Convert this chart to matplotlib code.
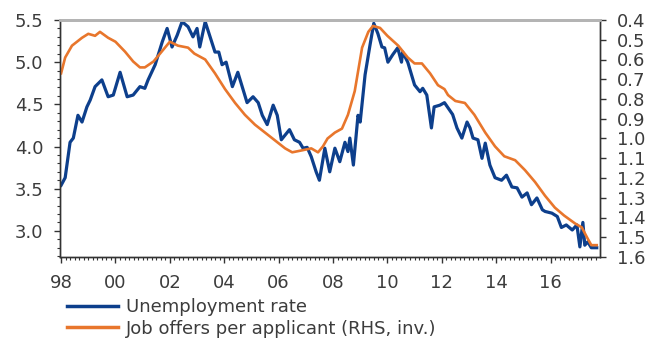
import matplotlib
matplotlib.use("Agg")
import matplotlib.pyplot as plt
from matplotlib.ticker import MultipleLocator, FuncFormatter
from matplotlib.lines import Line2D

# Unemployment rate (%), left axis
u_year = [1998.00, 1998.15, 1998.33, 1998.45, 1998.62, 1998.77, 1998.95, 1999.07,
          1999.25, 1999.50, 1999.73, 1999.92, 2000.17, 2000.43, 2000.65, 2000.90,
          2001.08, 2001.20, 2001.46, 2001.72, 2001.90, 2002.08, 2002.27, 2002.45,
          2002.67, 2002.85, 2003.00, 2003.10, 2003.30, 2003.42, 2003.66, 2003.80,
          2003.92, 2004.07, 2004.30, 2004.50, 2004.84, 2005.06, 2005.25, 2005.40,
          2005.58, 2005.80, 2005.95, 2006.10, 2006.40, 2006.58, 2006.77, 2006.90,
          2007.05, 2007.20, 2007.38, 2007.50, 2007.70, 2007.88, 2008.07, 2008.25,
          2008.44, 2008.55, 2008.62, 2008.75, 2008.92, 2009.00, 2009.18, 2009.36,
          2009.50, 2009.65, 2009.80, 2009.90, 2010.02, 2010.20, 2010.38, 2010.52,
          2010.56, 2010.75, 2011.00, 2011.20, 2011.30, 2011.45, 2011.62, 2011.72,
          2011.93, 2012.10, 2012.25, 2012.40, 2012.56, 2012.74, 2012.93, 2013.04,
          2013.15, 2013.33, 2013.48, 2013.60, 2013.77, 2013.96, 2014.20, 2014.38,
          2014.58, 2014.77, 2014.95, 2015.14, 2015.30, 2015.50, 2015.70, 2015.80,
          2016.05, 2016.25, 2016.40, 2016.58, 2016.80, 2016.97, 2017.08, 2017.19,
          2017.26, 2017.37, 2017.50, 2017.70]
u_rate = [3.54, 3.63, 4.05, 4.10, 4.37, 4.29, 4.47, 4.55,
          4.71, 4.79, 4.59, 4.61, 4.88, 4.59, 4.61, 4.71,
          4.69, 4.79, 4.97, 5.24, 5.40, 5.18, 5.32, 5.48,
          5.42, 5.30, 5.40, 5.18, 5.48, 5.36, 5.12, 5.12,
          4.97, 5.00, 4.71, 4.88, 4.52, 4.59, 4.52, 4.37,
          4.26, 4.49, 4.37, 4.08, 4.20, 4.08, 4.05, 3.98,
          3.99, 3.88, 3.70, 3.60, 3.98, 3.70, 3.98, 3.82,
          4.05, 3.94, 4.10, 3.78, 4.37, 4.29, 4.85, 5.20,
          5.46, 5.34, 5.18, 5.17, 5.00, 5.09, 5.17, 5.00,
          5.12, 5.00, 4.73, 4.65, 4.69, 4.61, 4.22, 4.47,
          4.49, 4.52, 4.45, 4.38, 4.22, 4.10, 4.29, 4.22,
          4.10, 4.08, 3.86, 4.04, 3.78, 3.63, 3.60, 3.66,
          3.52, 3.51, 3.40, 3.45, 3.31, 3.39, 3.25, 3.23,
          3.21, 3.17, 3.04, 3.07, 3.01, 3.07, 2.81, 3.10,
          2.83, 2.87, 2.80, 2.80]

# Job offers per applicant, right axis (inverted)
j_year = [1998.00, 1998.15, 1998.40, 1998.77, 1999.00, 1999.25, 1999.43, 1999.73,
          2000.00, 2000.35, 2000.65, 2000.90, 2001.08, 2001.40, 2001.70, 2002.00,
          2002.30, 2002.67, 2002.90, 2003.30, 2003.66, 2004.03, 2004.40, 2004.76,
          2005.13, 2005.50, 2005.87, 2006.24, 2006.50, 2006.86, 2007.20, 2007.45,
          2007.63, 2007.80, 2008.07, 2008.33, 2008.55, 2008.80, 2009.07, 2009.30,
          2009.47, 2009.73, 2010.00, 2010.40, 2010.75, 2011.00, 2011.27, 2011.57,
          2011.86, 2012.10, 2012.23, 2012.50, 2012.85, 2013.20, 2013.60, 2013.96,
          2014.30, 2014.70, 2015.06, 2015.43, 2015.80, 2016.16, 2016.50, 2016.90,
          2017.15, 2017.34, 2017.50, 2017.70]
j_ratio = [0.67, 0.59, 0.53, 0.49, 0.47, 0.48, 0.46, 0.49,
           0.51, 0.56, 0.61, 0.64, 0.64, 0.61, 0.56, 0.51,
           0.53, 0.54, 0.57, 0.60, 0.67, 0.75, 0.82, 0.88,
           0.93, 0.97, 1.01, 1.05, 1.07, 1.06, 1.05, 1.07,
           1.04, 1.00, 0.97, 0.95, 0.88, 0.76, 0.54, 0.46,
           0.43, 0.44, 0.48, 0.53, 0.59, 0.62, 0.62, 0.67,
           0.73, 0.75, 0.78, 0.81, 0.82, 0.88, 0.97, 1.04,
           1.09, 1.11, 1.16, 1.22, 1.29, 1.35, 1.39, 1.43,
           1.45, 1.50, 1.54, 1.54]

x_ticks = list(range(1998, 2017, 2))
legend_labels = ["Unemployment rate", "Job offers per applicant (RHS, inv.)"]

BLUE = "#0d3f8c"
ORANGE = "#e8762c"
TXT = "#3c3c3c"
FS = 13

plt.rcParams["font.family"] = ["DejaVu Sans"]

fig = plt.figure(figsize=(6.56, 3.5), dpi=100)
ax = fig.add_axes([60 / 656, 93 / 350, 540 / 656, 237 / 350])
ax2 = ax.twinx()

ax.plot(u_year, u_rate, color=BLUE, lw=2.3, solid_joinstyle="round")
ax2.plot(j_year, j_ratio, color=ORANGE, lw=1.9, solid_joinstyle="round")

ax.set_xlim(1997.96, 2017.82)
ax.set_ylim(2.69, 5.5)
ax2.set_ylim(1.6, 0.4)

ax.set_xticks(x_ticks)
ax.xaxis.set_major_formatter(FuncFormatter(lambda v, p: f"{int(round(v)) % 100:02d}"))
ax.xaxis.set_minor_locator(MultipleLocator(1 / 6))
ax.yaxis.set_major_locator(MultipleLocator(0.5))
ax.yaxis.set_major_formatter(FuncFormatter(lambda v, p: f"{v:.1f}"))
ax.yaxis.set_minor_locator(MultipleLocator(0.1))
ax2.yaxis.set_major_locator(MultipleLocator(0.1))
ax2.yaxis.set_major_formatter(FuncFormatter(lambda v, p: f"{v:.1f}"))

for a in (ax, ax2):
    a.tick_params(which="major", length=4, width=1, color="#333333",
                  labelsize=FS, labelcolor=TXT, direction="out")
    a.tick_params(which="minor", length=2, width=0.8, color="#333333", direction="out")
    a.spines["top"].set_color("#b4b4b4")
    a.spines["top"].set_linewidth(2)
    for s in ("left", "right", "bottom"):
        a.spines[s].set_color("#333333")
        a.spines[s].set_linewidth(1)
ax.tick_params(axis="x", which="major", pad=8)
ax.tick_params(axis="y", which="major", pad=8)
ax2.tick_params(axis="y", which="major", pad=8)

handles = [Line2D([], [], color=BLUE, lw=2.5), Line2D([], [], color=ORANGE, lw=2.5)]
fig.legend(handles, legend_labels, loc="upper left",
           bbox_to_anchor=(67 / 656, 1 - 298 / 350), frameon=False,
           fontsize=FS, labelcolor=TXT, handlelength=2.8, handletextpad=0.45,
           labelspacing=0.2, borderpad=0, borderaxespad=0)

fig.savefig("out.png", dpi=100)
